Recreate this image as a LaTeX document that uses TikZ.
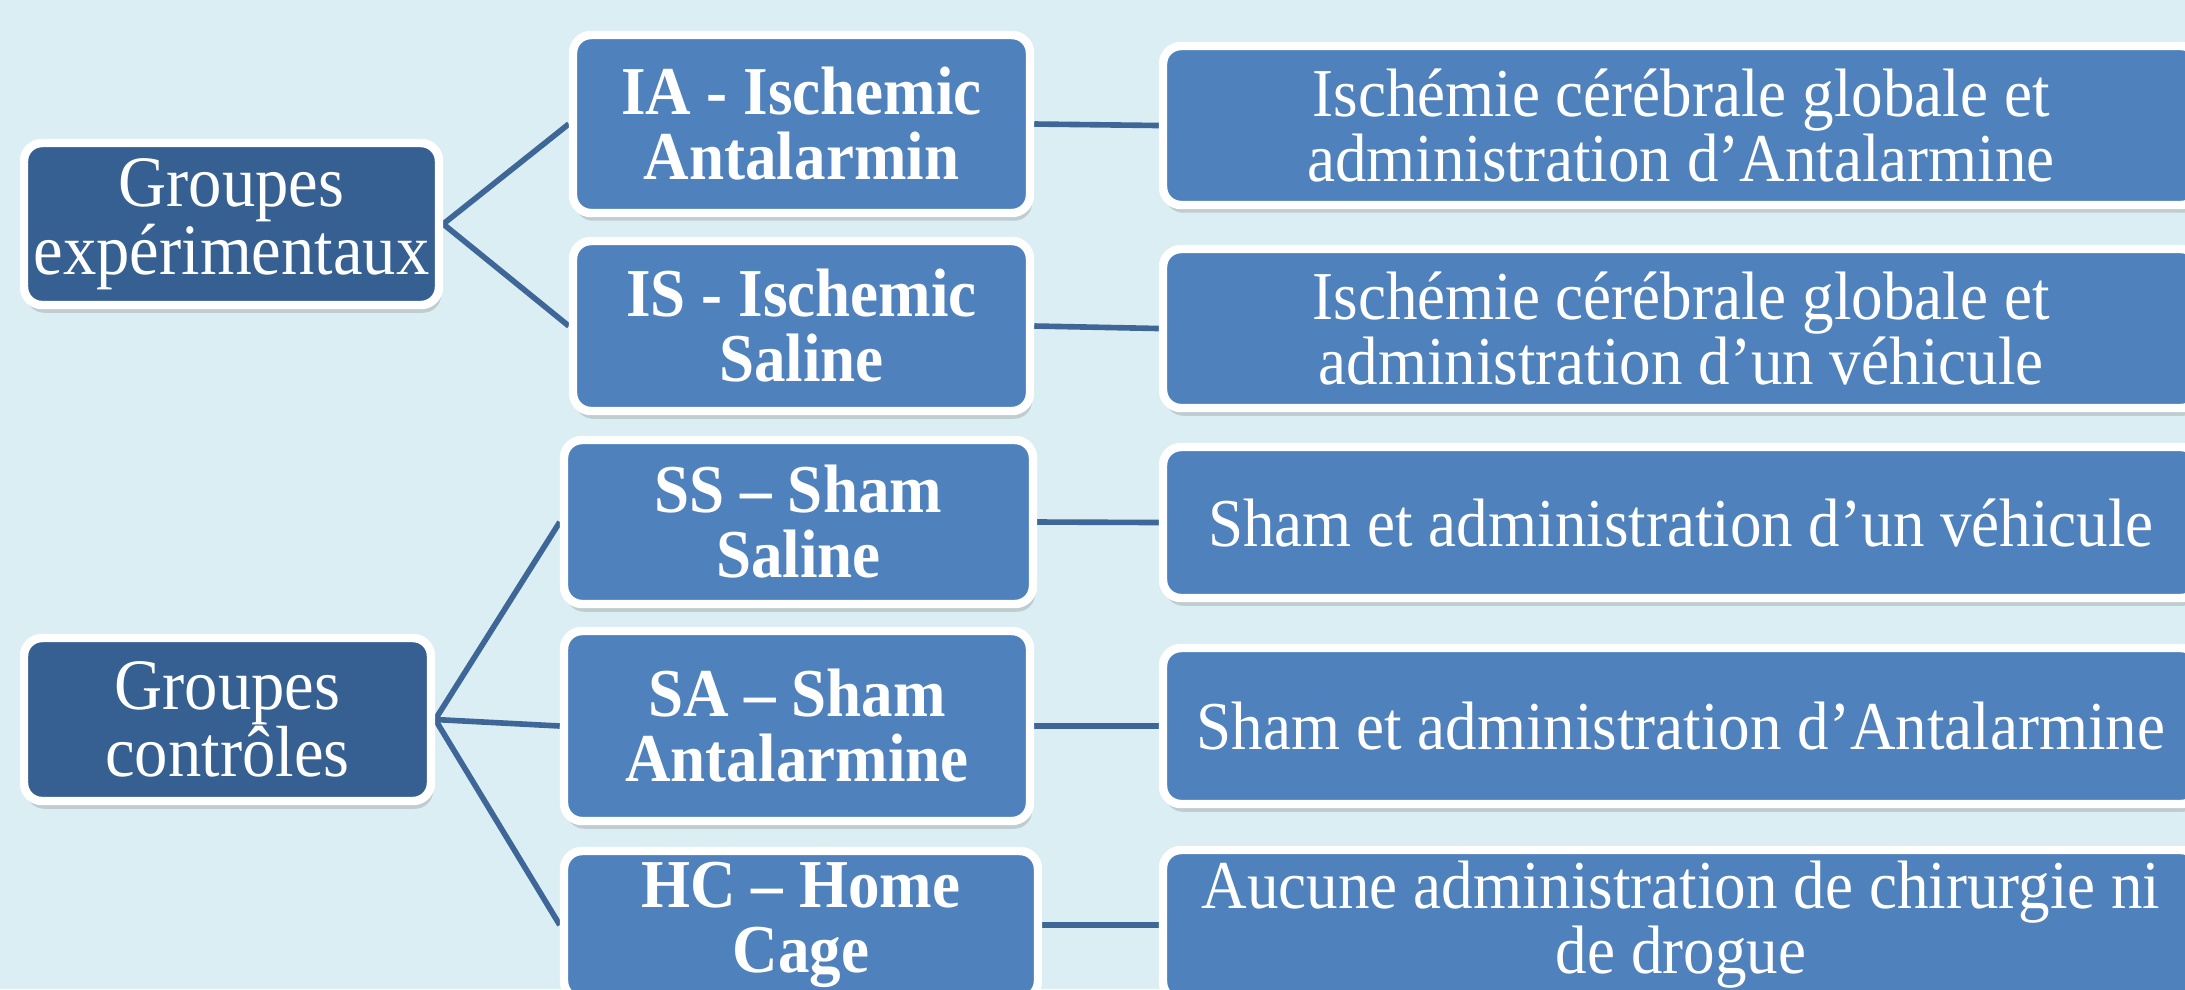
\documentclass[tikz,border=0pt]{standalone}
\usepackage{fontspec}
\setmainfont{Liberation Serif}[FakeStretch=0.92]
\usetikzlibrary{positioning, shadows, backgrounds}

\definecolor{fundo}{RGB}{219,238,244}
\definecolor{azulescuro}{RGB}{55,96,146}
\definecolor{azul}{RGB}{79,129,189}
\definecolor{linha}{RGB}{62,103,152}

\tikzset{
  caixa/.style={rectangle, rounded corners=0.18cm, draw=white, line width=2.4pt,
    fill=azul, text=white, align=center, inner sep=2pt,
    font=\fontsize{19.5}{18.5}\selectfont,
    drop shadow={shadow xshift=0.6pt, shadow yshift=-2.2pt, opacity=0.3}},
  grupo/.style={caixa, fill=azulescuro, font=\fontsize{20.6}{19.2}\selectfont},
  tipo/.style={caixa, font=\bfseries\fontsize{19.5}{18.5}\selectfont},
  ligacao/.style={draw=linha, line width=1.6pt},
}

\begin{document}
\begin{tikzpicture}
  % Fundo
  \useasboundingbox (0,0) rectangle (21.85,-9.89);

  % Grupos
  \node[grupo, minimum width=4.15cm, minimum height=1.62cm] (gexp) at (2.315,-2.24) {Groupes\\expérimentaux};
  \node[grupo, minimum width=4.07cm, minimum height=1.63cm] (gctl) at (2.275,-7.195) {Groupes\\contrôles};

  % Tipos
  \node[tipo, minimum width=4.57cm, minimum height=1.78cm] (ia) at (8.015,-1.24) {IA - Ischemic\\Antalarmin};
  \node[tipo, minimum width=4.57cm, minimum height=1.70cm] (is) at (8.015,-3.26) {IS - Ischemic\\Saline};
  \node[tipo, minimum width=4.69cm, minimum height=1.64cm] (ss) at (7.985,-5.22) {SS -- Sham\\Saline};
  \node[tipo, minimum width=4.66cm, minimum height=1.90cm] (sa) at (7.97,-7.26) {SA -- Sham\\Antalarmine};
  \node[tipo, minimum width=4.74cm, minimum height=1.48cm] (hc) at (8.01,-9.25) {HC -- Home\\Cage};

  % Descricoes
  \node[caixa, minimum width=10.36cm, minimum height=1.59cm] (r1) at (16.81,-1.255) {Ischémie cérébrale globale et\\administration d’Antalarmine};
  \node[caixa, minimum width=10.36cm, minimum height=1.59cm] (r2) at (16.81,-3.285) {Ischémie cérébrale globale et\\administration d’un véhicule};
  \node[caixa, minimum width=10.36cm, minimum height=1.51cm] (r3) at (16.81,-5.225) {Sham et administration d’un véhicule};
  \node[caixa, minimum width=10.36cm, minimum height=1.56cm] (r4) at (16.81,-7.26) {Sham et administration d’Antalarmine};
  \node[caixa, minimum width=10.36cm, minimum height=1.50cm] (r5) at (16.81,-9.25) {Aucune administration de chirurgie ni\\de drogue};

  % Ligacoes (por baixo das caixas)
  \begin{scope}[on background layer]
    \fill[fundo] (0,0) rectangle (21.85,-9.89);
    \draw[ligacao] (gexp.east) -- (ia.west);
    \draw[ligacao] (gexp.east) -- (is.west);
    \draw[ligacao] (gctl.east) -- (ss.west);
    \draw[ligacao] (gctl.east) -- (sa.west);
    \draw[ligacao] (gctl.east) -- (hc.west);
    \draw[ligacao] (ia.east) -- (r1.west);
    \draw[ligacao] (is.east) -- (r2.west);
    \draw[ligacao] (ss.east) -- (r3.west);
    \draw[ligacao] (sa.east) -- (r4.west);
    \draw[ligacao] (hc.east) -- (r5.west);
  \end{scope}
\end{tikzpicture}
\end{document}
